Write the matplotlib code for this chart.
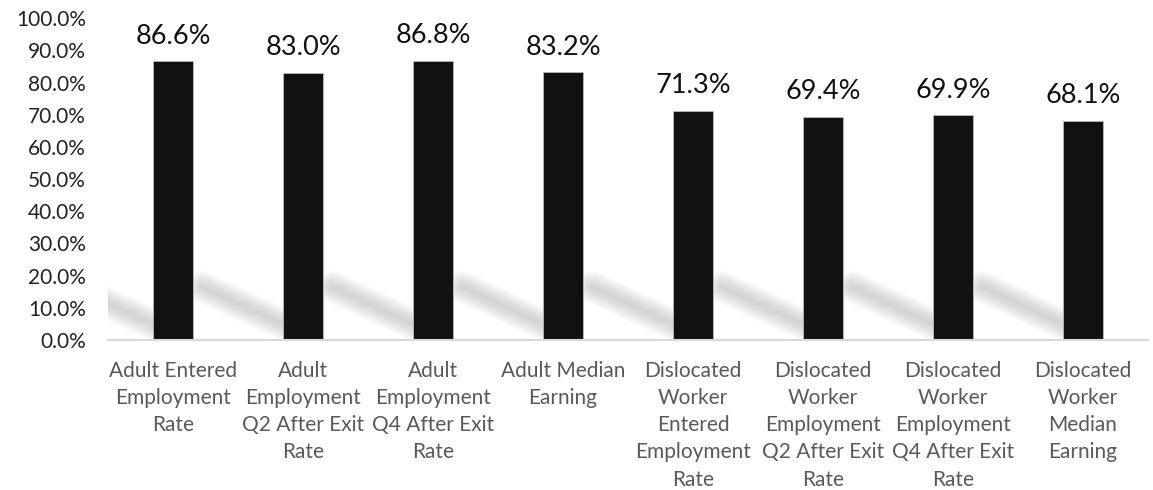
import numpy as np
import matplotlib.pyplot as plt

categories = [
    "Adult Entered\nEmployment\nRate",
    "Adult\nEmployment\nQ2 After Exit\nRate",
    "Adult\nEmployment\nQ4 After Exit\nRate",
    "Adult Median\nEarning",
    "Dislocated\nWorker\nEntered\nEmployment\nRate",
    "Dislocated\nWorker\nEmployment\nQ2 After Exit\nRate",
    "Dislocated\nWorker\nEmployment\nQ4 After Exit\nRate",
    "Dislocated\nWorker\nMedian\nEarning",
]
rates = [86.6, 83.0, 86.8, 83.2, 71.3, 69.4, 69.9, 68.1]

plt.rcParams['font.family'] = ['Lato', 'DejaVu Sans']

fig = plt.figure(figsize=(11.53, 4.9), dpi=100)
ax = fig.add_axes([0.0937, 0.306, 0.9020, 0.657])

x = np.arange(len(rates))
bar_w = 0.31

# soft diagonal shadows behind each bar (stacked strokes fake a blur)
for xi in x:
    left = xi - bar_w / 2
    xs = [left - 0.62, left + 0.05]
    ys = [16.5, 4.0]
    for w in range(2, 34, 2):
        ax.plot(xs, ys, color='#a8a8a8', lw=w * 0.72, alpha=0.035,
                solid_capstyle='round', zorder=1, clip_on=True)

bars = ax.bar(x, rates, width=bar_w, color='#111111', edgecolor='#bbbbbb',
              linewidth=0.6, zorder=3)

for xi, v in zip(x, rates):
    ax.annotate(f"{v:.1f}%", (xi, v), xytext=(0, 9), textcoords='offset points',
                ha='center', va='bottom', fontsize=19.5, color='#111111')

ax.set_xlim(-0.5, len(rates) - 0.5)
ax.set_ylim(0, 100)
ax.set_yticks(np.arange(0, 101, 10))
ax.set_yticklabels([f"{t:.1f}%" for t in np.arange(0, 101, 10)], fontsize=15, color='#222222')
ax.set_xticks(x)
ax.set_xticklabels(categories, fontsize=15, color='#595959', linespacing=1.45)
ax.tick_params(axis='both', length=0)
ax.tick_params(axis='x', pad=15)
ax.tick_params(axis='y', pad=16)

for s in ['top', 'right', 'left']:
    ax.spines[s].set_visible(False)
ax.spines['bottom'].set_color('#d9d9d9')
ax.spines['bottom'].set_linewidth(1.5)
ax.spines['bottom'].set_zorder(4)

fig.savefig('out.png', dpi=100)
